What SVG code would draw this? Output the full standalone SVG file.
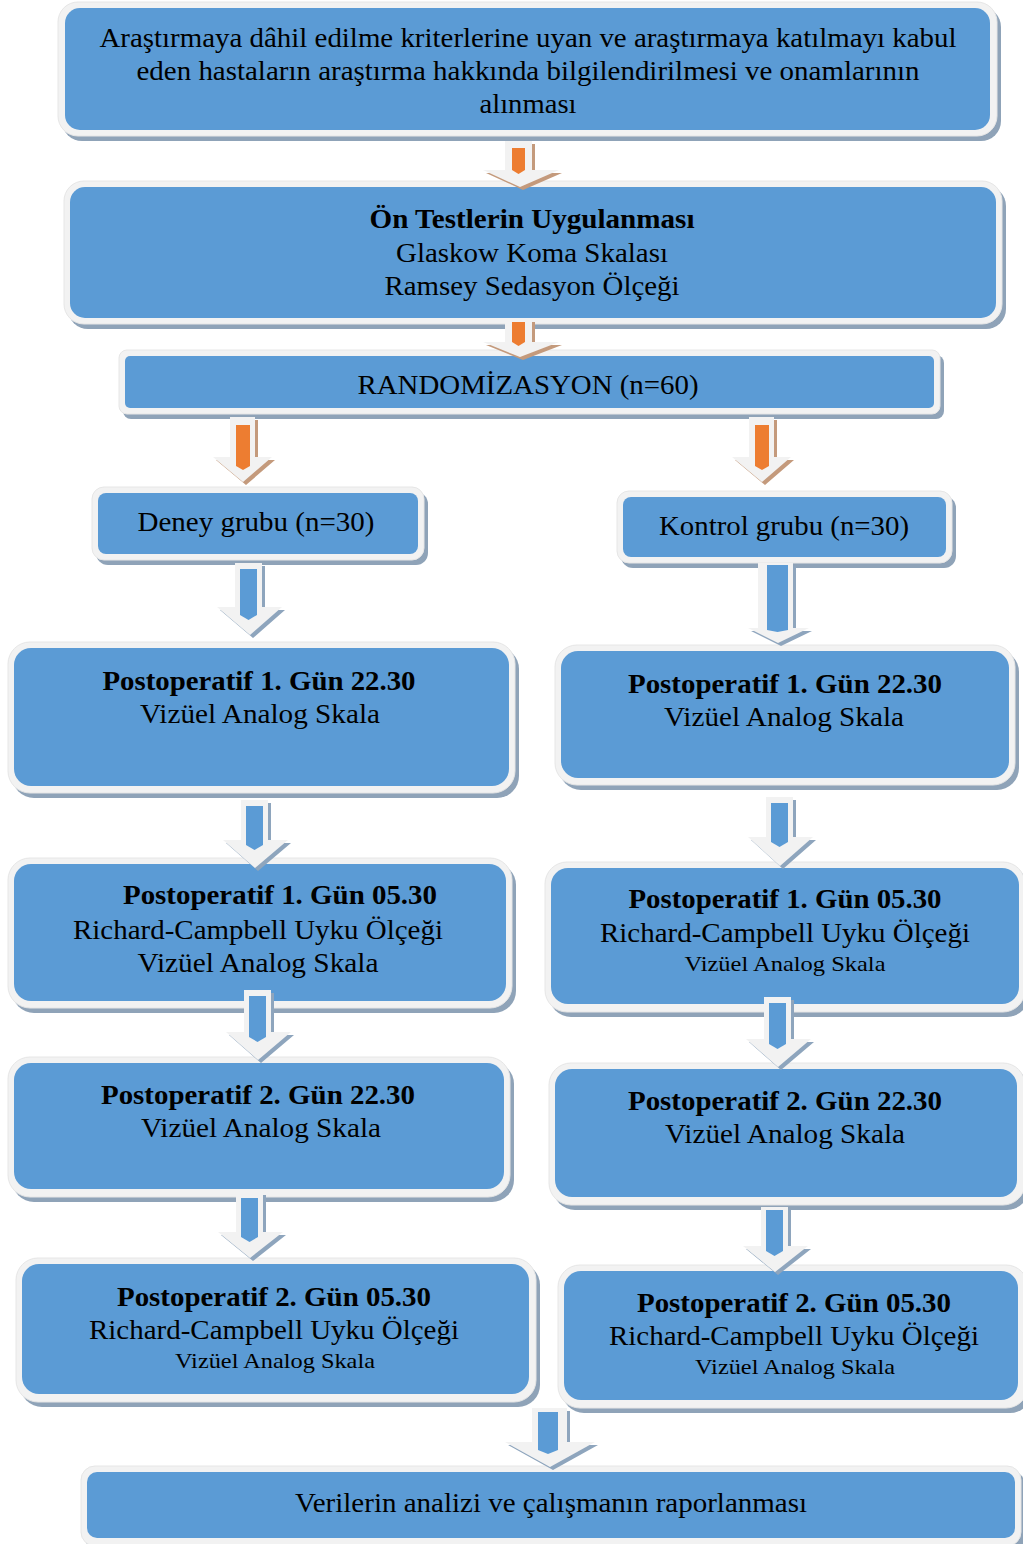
<svg xmlns="http://www.w3.org/2000/svg" width="1023" height="1544" viewBox="0 0 1023 1544">
<style>
.sh{fill:#8fa3b8}
.bd{fill:#f2f2f2;stroke:#e6e6e6;stroke-width:1}
.in{fill:#5b9bd5}
text{font-family:"Liberation Serif","Times New Roman",serif;font-size:27px;fill:#000;text-anchor:middle}
.b{font-weight:bold}
.s{font-size:21px}
.ao{fill:#f2f2f2}
.ash-o{fill:#c49a7c}
.ash-b{fill:#8ea5bd}
.or{fill:#ed7d31}
.bl{fill:#5b9bd5}
</style>
<rect width="1023" height="1544" fill="#fff"/>

<g id="n-onam">
<rect class="sh" x="62" y="7" width="939" height="134" rx="20"/>
<rect class="bd" x="58" y="2" width="939" height="134" rx="20"/>
<rect class="in" x="65" y="8" width="925" height="122" rx="15"/>
<text x="528" y="47" textLength="857" lengthAdjust="spacingAndGlyphs">Araştırmaya dâhil edilme kriterlerine uyan ve araştırmaya katılmayı kabul</text>
<text x="528" y="80" textLength="783" lengthAdjust="spacingAndGlyphs">eden hastaların araştırma hakkında bilgilendirilmesi ve onamlarının</text>
<text x="528" y="113" textLength="97" lengthAdjust="spacingAndGlyphs">alınması</text>
</g>

<g id="n-ontest">
<rect class="sh" x="68" y="186" width="938" height="143" rx="20"/>
<rect class="bd" x="64" y="181" width="938" height="143" rx="20"/>
<rect class="in" x="70" y="187" width="926" height="131" rx="15"/>
<text class="b" x="532" y="228" textLength="325" lengthAdjust="spacingAndGlyphs">Ön Testlerin Uygulanması</text>
<text x="532" y="262" textLength="272" lengthAdjust="spacingAndGlyphs">Glaskow Koma Skalası</text>
<text x="532" y="295" textLength="295" lengthAdjust="spacingAndGlyphs">Ramsey Sedasyon Ölçeği</text>
</g>

<g id="n-random">
<rect class="sh" x="123" y="355" width="821" height="64" rx="8"/>
<rect class="bd" x="119" y="350" width="821" height="64" rx="8"/>
<rect class="in" x="125" y="356" width="809" height="52" rx="5"/>
<text x="528" y="394" textLength="341" lengthAdjust="spacingAndGlyphs">RANDOMİZASYON (n=60)</text>
</g>

<g id="n-deney">
<rect class="sh" x="96" y="492" width="332" height="73" rx="12"/>
<rect class="bd" x="92" y="487" width="332" height="73" rx="12"/>
<rect class="in" x="98" y="493" width="320" height="61" rx="8"/>
<text x="256" y="531" textLength="237" lengthAdjust="spacingAndGlyphs">Deney grubu (n=30)</text>
</g>

<g id="n-kontrol">
<rect class="sh" x="621" y="496" width="335" height="72" rx="12"/>
<rect class="bd" x="617" y="491" width="335" height="72" rx="12"/>
<rect class="in" x="623" y="497" width="323" height="60" rx="8"/>
<text x="784" y="535" textLength="250" lengthAdjust="spacingAndGlyphs">Kontrol grubu (n=30)</text>
</g>

<g id="n-d1">
<rect class="sh" x="12" y="647" width="507" height="151" rx="22"/>
<rect class="bd" x="8" y="642" width="507" height="151" rx="22"/>
<rect class="in" x="14" y="648" width="495" height="138" rx="17"/>
<text class="b" x="259" y="690" textLength="313" lengthAdjust="spacingAndGlyphs">Postoperatif 1. Gün 22.30</text>
<text x="260" y="723" textLength="240" lengthAdjust="spacingAndGlyphs">Vizüel Analog Skala</text>
</g>

<g id="n-k1">
<rect class="sh" x="559" y="650" width="460" height="140" rx="22"/>
<rect class="bd" x="555" y="645" width="460" height="140" rx="22"/>
<rect class="in" x="561" y="651" width="448" height="127" rx="17"/>
<text class="b" x="785" y="693" textLength="314" lengthAdjust="spacingAndGlyphs">Postoperatif 1. Gün 22.30</text>
<text x="784" y="726" textLength="240" lengthAdjust="spacingAndGlyphs">Vizüel Analog Skala</text>
</g>

<g id="n-d2">
<rect class="sh" x="12" y="863" width="504" height="150" rx="22"/>
<rect class="bd" x="8" y="858" width="504" height="150" rx="22"/>
<rect class="in" x="14" y="864" width="492" height="137" rx="17"/>
<text class="b" x="280" y="904" textLength="314" lengthAdjust="spacingAndGlyphs">Postoperatif 1. Gün 05.30</text>
<text x="258" y="939" textLength="370" lengthAdjust="spacingAndGlyphs">Richard-Campbell Uyku Ölçeği</text>
<text x="258" y="972" textLength="241" lengthAdjust="spacingAndGlyphs">Vizüel Analog Skala</text>
</g>

<g id="n-k2">
<rect class="sh" x="549" y="867" width="480" height="150" rx="22"/>
<rect class="bd" x="545" y="862" width="480" height="150" rx="22"/>
<rect class="in" x="551" y="868" width="468" height="136" rx="17"/>
<text class="b" x="785" y="908" textLength="313" lengthAdjust="spacingAndGlyphs">Postoperatif 1. Gün 05.30</text>
<text x="785" y="942" textLength="370" lengthAdjust="spacingAndGlyphs">Richard-Campbell Uyku Ölçeği</text>
<text class="s" x="785" y="971" textLength="201" lengthAdjust="spacingAndGlyphs">Vizüel Analog Skala</text>
</g>

<g id="n-d3">
<rect class="sh" x="12" y="1062" width="502" height="140" rx="22"/>
<rect class="bd" x="8" y="1057" width="502" height="140" rx="22"/>
<rect class="in" x="14" y="1063" width="490" height="126" rx="17"/>
<text class="b" x="258" y="1104" textLength="314" lengthAdjust="spacingAndGlyphs">Postoperatif 2. Gün 22.30</text>
<text x="261" y="1137" textLength="240" lengthAdjust="spacingAndGlyphs">Vizüel Analog Skala</text>
</g>

<g id="n-k3">
<rect class="sh" x="553" y="1068" width="476" height="142" rx="22"/>
<rect class="bd" x="549" y="1063" width="476" height="142" rx="22"/>
<rect class="in" x="555" y="1069" width="462" height="128" rx="17"/>
<text class="b" x="785" y="1110" textLength="314" lengthAdjust="spacingAndGlyphs">Postoperatif 2. Gün 22.30</text>
<text x="785" y="1143" textLength="240" lengthAdjust="spacingAndGlyphs">Vizüel Analog Skala</text>
</g>

<g id="n-d4">
<rect class="sh" x="20" y="1263" width="520" height="144" rx="22"/>
<rect class="bd" x="16" y="1258" width="520" height="144" rx="22"/>
<rect class="in" x="22" y="1264" width="507" height="130" rx="17"/>
<text class="b" x="274" y="1306" textLength="314" lengthAdjust="spacingAndGlyphs">Postoperatif 2. Gün 05.30</text>
<text x="274" y="1339" textLength="370" lengthAdjust="spacingAndGlyphs">Richard-Campbell Uyku Ölçeği</text>
<text class="s" x="275" y="1368" textLength="200" lengthAdjust="spacingAndGlyphs">Vizüel Analog Skala</text>
</g>

<g id="n-k4">
<rect class="sh" x="562" y="1270" width="470" height="143" rx="22"/>
<rect class="bd" x="558" y="1265" width="470" height="143" rx="22"/>
<rect class="in" x="564" y="1271" width="454" height="129" rx="17"/>
<text class="b" x="794" y="1312" textLength="314" lengthAdjust="spacingAndGlyphs">Postoperatif 2. Gün 05.30</text>
<text x="794" y="1345" textLength="370" lengthAdjust="spacingAndGlyphs">Richard-Campbell Uyku Ölçeği</text>
<text class="s" x="795" y="1374" textLength="200" lengthAdjust="spacingAndGlyphs">Vizüel Analog Skala</text>
</g>

<g id="n-final">
<rect class="sh" x="85" y="1471" width="940" height="80" rx="14"/>
<rect class="bd" x="81" y="1466" width="940" height="80" rx="14"/>
<rect class="in" x="87" y="1472" width="928" height="66" rx="10"/>
<text x="551" y="1512" textLength="512" lengthAdjust="spacingAndGlyphs">Verilerin analizi ve çalışmanın raporlanması</text>
</g>

<g id="connectors">
<path class="ash-o" d="M508,144 H535 V173 H562 L523,190 L486,173 H508 Z"/>
<path class="ao" d="M505,141 H532 V170 H559 L520,187 L483,170 H505 Z"/>
<path class="or" d="M512,148 H525 V170 L518.5,174 L512,170 Z"/>
<path class="ash-o" d="M508,322 H535 V345 H562 L523,360 L486,345 H508 Z"/>
<path class="ao" d="M505,319 H532 V342 H559 L520,357 L483,342 H505 Z"/>
<path class="or" d="M512,322 H525 V342 L518.5,346 L512,342 Z"/>
<path class="ash-o" d="M233,420 H258 V460 H275 L246,485 L216,460 H233 Z"/>
<path class="ao" d="M230,417 H255 V457 H272 L243,482 L213,457 H230 Z"/>
<path class="or" d="M236,425 H250 V466 L243,470 L236,466 Z"/>
<path class="ash-o" d="M752,420 H777 V460 H794 L765,485 L735,460 H752 Z"/>
<path class="ao" d="M749,417 H774 V457 H791 L762,482 L732,457 H749 Z"/>
<path class="or" d="M755,425 H769 V466 L762,470 L755,466 Z"/>
<path class="ash-b" d="M238,566 H265 V610 H285 L253,638 L220,610 H238 Z"/>
<path class="ao" d="M235,563 H262 V607 H282 L250,635 L217,607 H235 Z"/>
<path class="bl" d="M240,569 H257 V615 L248.5,620 L240,615 Z"/>
<path class="ash-b" d="M761,566 H796 V631 H812 L781,646 L751,631 H761 Z"/>
<path class="ao" d="M758,563 H793 V628 H809 L778,643 L748,628 H758 Z"/>
<path class="bl" d="M767,565 H788 V630 L777.5,632 L767,630 Z"/>
<path class="ash-b" d="M244,803 H271 V843 H291 L258,871 L226,843 H244 Z"/>
<path class="ao" d="M241,800 H268 V840 H288 L255,868 L223,840 H241 Z"/>
<path class="bl" d="M246,806 H263 V845 L254.5,850 L246,845 Z"/>
<path class="ash-b" d="M769,800 H796 V840 H816 L783,869 L751,840 H769 Z"/>
<path class="ao" d="M766,797 H793 V837 H813 L780,866 L748,837 H766 Z"/>
<path class="bl" d="M771,803 H788 V842 L779.5,847 L771,842 Z"/>
<path class="ash-b" d="M247,993 H274 V1035 H294 L261,1063 L229,1035 H247 Z"/>
<path class="ao" d="M244,990 H271 V1032 H291 L258,1060 L226,1032 H244 Z"/>
<path class="bl" d="M249,996 H266 V1037 L257.5,1042 L249,1037 Z"/>
<path class="ash-b" d="M767,1000 H794 V1042 H814 L781,1070 L749,1042 H767 Z"/>
<path class="ao" d="M764,997 H791 V1039 H811 L778,1067 L746,1039 H764 Z"/>
<path class="bl" d="M769,1003 H786 V1044 L777.5,1049 L769,1044 Z"/>
<path class="ash-b" d="M239,1195 H266 V1235 H286 L253,1261 L221,1235 H239 Z"/>
<path class="ao" d="M236,1192 H263 V1232 H283 L250,1258 L218,1232 H236 Z"/>
<path class="bl" d="M241,1198 H258 V1237 L249.5,1242 L241,1237 Z"/>
<path class="ash-b" d="M764,1210 H791 V1249 H811 L778,1275 L746,1249 H764 Z"/>
<path class="ao" d="M761,1207 H788 V1246 H808 L775,1272 L743,1246 H761 Z"/>
<path class="bl" d="M766,1210 H783 V1251 L774.5,1256 L766,1251 Z"/>
<path class="ash-b" d="M535,1411 H570 V1445 H598 L553,1470 L508,1445 H535 Z"/>
<path class="ao" d="M532,1408 H567 V1442 H595 L550,1467 L505,1442 H532 Z"/>
<path class="bl" d="M538,1412 H558 V1450 L548,1454 L538,1450 Z"/>
</g>
</svg>
